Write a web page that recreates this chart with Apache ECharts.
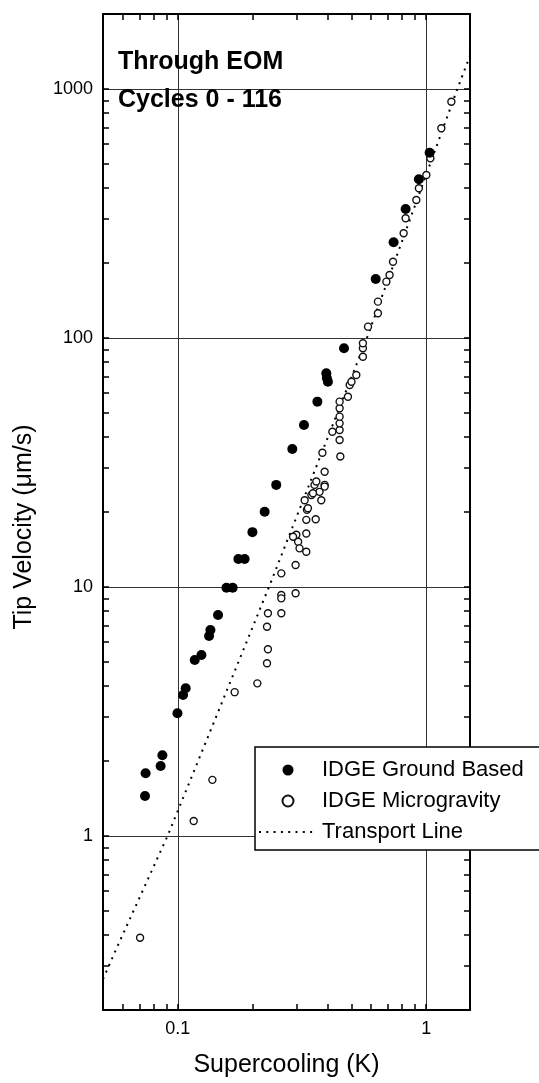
<!DOCTYPE html>
<html>
<head>
<meta charset="utf-8">
<script src="https://cdn.jsdelivr.net/npm/echarts@6/dist/echarts.min.js"></script>
<style>
html,body{margin:0;padding:0;background:#fff;}
#chart{width:539px;height:1083px;}
</style>
</head>
<body>
<div id="chart"></div>
<script>
// ---- data ----
const groundBased = [
  [0.0738,1.447],[0.0742,1.785],[0.0853,1.91],[0.0867,2.11],[0.0997,3.11],
  [0.1050,3.68],[0.1076,3.92],[0.1170,5.09],[0.1245,5.33],[0.1336,6.35],
  [0.1353,6.72],[0.1452,7.72],[0.1570,9.93],[0.1663,9.93],[0.1753,12.95],
  [0.1858,12.95],[0.1997,16.6],[0.2237,20.06],[0.249,25.7],[0.289,35.8],
  [0.322,44.7],[0.3646,55.5],[0.396,72.1],[0.398,69],[0.402,66.7],
  [0.4666,90.9],[0.626,172.5],[0.739,242.2],[0.826,329.6],[0.934,433.7],
  [1.032,554.6]
];
const microgravity = [
  [0.0705,0.39],[0.1159,1.148],[0.1378,1.68],[0.1694,3.78],[0.209,4.10],
  [0.2286,4.94],[0.2306,5.62],[0.2286,6.92],[0.2306,7.84],[0.261,7.84],
  [0.261,9.28],[0.261,9.0],[0.298,9.43],[0.261,11.34],[0.298,12.25],
  [0.305,15.2],[0.329,13.85],[0.309,14.29],[0.329,16.4],[0.300,16.2],
  [0.291,15.9],[0.329,18.6],[0.359,18.7],[0.331,20.4],[0.324,22.3],
  [0.345,23.4],[0.378,22.3],[0.355,25.7],[0.390,25.7],[0.372,24.1],
  [0.334,20.7],[0.350,23.8],[0.390,25.3],[0.361,26.5],[0.390,29.0],
  [0.382,34.6],[0.451,33.4],[0.419,42.0],[0.448,38.9],[0.448,42.7],
  [0.448,45.4],[0.448,48.3],[0.448,52.2],[0.448,55.5],[0.484,58.1],
  [0.492,64.7],[0.523,71.0],[0.500,66.7],[0.556,84.1],[0.556,90.9],
  [0.556,95.2],[0.583,111],[0.639,125.7],[0.639,139.9],[0.691,168.3],
  [0.712,179],[0.735,202.4],[0.811,263.2],[0.826,302.4],[0.912,358],
  [0.934,399],[1.001,451.4],[1.039,526.6],[1.150,695],[1.262,889]
];
const transportLine = [
  [0.05,0.266],[0.0567,0.354],[0.0913,1.009],[0.1366,2.706],[0.233,10.02],
  [0.577,100],[1.334,1000],[1.5,1360]
];
const xTickLabels = [0.1, 1];
const yTickLabels = [1, 10, 100, 1000];
const xMinorTicks = [0.06,0.07,0.08,0.09,0.1,0.2,0.3,0.4,0.5,0.6,0.7,0.8,0.9,1];
const yMinorTicks = [0.3,0.4,0.5,0.6,0.7,0.8,0.9,1,2,3,4,5,6,7,8,9,10,20,30,40,50,60,70,80,90,100,
                     200,300,400,500,600,700,800,900,1000];

const FONT = "'Liberation Sans', Arial, Helvetica, sans-serif";
const fmt = v => String(+Number(v).toPrecision(6));

const chart = echarts.init(document.getElementById('chart'), null, {renderer:'canvas'});

const minorX = (pos, showLine) => ({
  type:'log', logBase:10, min:0.05, max:1.5, position:pos,
  axisLine:{show:showLine, onZero:false, lineStyle:{color:'#000', width:2}},
  axisTick:{show:true, inside:true, length:6, customValues:xMinorTicks, lineStyle:{color:'#000', width:1.5}},
  axisLabel:{show:false}, splitLine:{show:false}
});
const minorY = (pos, showLine) => ({
  type:'log', logBase:10, min:0.2, max:2000, position:pos,
  axisLine:{show:showLine, onZero:false, lineStyle:{color:'#000', width:2}},
  axisTick:{show:true, inside:true, length:6, customValues:yMinorTicks, lineStyle:{color:'#000', width:1.5}},
  axisLabel:{show:false}, splitLine:{show:false}
});

chart.setOption({
  animation:false,
  backgroundColor:'#fff',
  textStyle:{fontFamily:FONT},
  grid:{left:103, right:69, top:14, bottom:73, show:false},
  xAxis:[
    {
      type:'log', logBase:10, min:0.05, max:1.5, position:'bottom',
      axisLine:{show:true, onZero:false, lineStyle:{color:'#000', width:2}},
      axisTick:{show:false, customValues:xTickLabels},
      axisLabel:{show:true, customValues:xTickLabels, formatter:fmt, fontSize:18, color:'#000', margin:10, fontFamily:FONT},
      splitLine:{show:true, lineStyle:{color:'#333', width:1}},
      name:'Supercooling (K)', nameLocation:'middle', nameGap:43,
      nameTextStyle:{fontSize:25, color:'#000', fontFamily:FONT}
    },
    minorX('bottom', false),
    minorX('top', true)
  ],
  yAxis:[
    {
      type:'log', logBase:10, min:0.2, max:2000, position:'left',
      axisLine:{show:true, onZero:false, lineStyle:{color:'#000', width:2}},
      axisTick:{show:false, customValues:yTickLabels},
      axisLabel:{show:true, customValues:yTickLabels, formatter:fmt, fontSize:18, color:'#000', margin:10, fontFamily:FONT},
      splitLine:{show:true, lineStyle:{color:'#333', width:1}},
      name:'Tip Velocity (μm/s)', nameLocation:'middle', nameGap:66, nameRotate:90,
      nameTextStyle:{fontSize:25, color:'#000', fontFamily:FONT, padding:[0,30,0,0]}
    },
    minorY('left', false),
    minorY('right', true)
  ],
  legend:{
    show:true, orient:'vertical', left:255, top:747,
    backgroundColor:'#fff', borderColor:'#000', borderWidth:1.5, borderRadius:0,
    padding:[12,60,7,3], itemWidth:58, itemHeight:11, itemGap:9,
    textStyle:{fontSize:22, color:'#000', fontFamily:FONT},
    data:['IDGE Ground Based','IDGE Microgravity','Transport Line'],
    z:20
  },
  graphic:[
    {type:'text', left:118, top:50, z:10,
     style:{text:'Through EOM', font:"bold 25px 'Liberation Sans', Arial, sans-serif", fill:'#000'}},
    {type:'text', left:118, top:88, z:10,
     style:{text:'Cycles 0 - 116', font:"bold 25px 'Liberation Sans', Arial, sans-serif", fill:'#000'}}
  ],
  series:[
    {
      name:'Transport Line', type:'line', xAxisIndex:0, yAxisIndex:0,
      data:transportLine, showSymbol:false, symbol:'none', smooth:false,
      itemStyle:{color:'#000', opacity:0},
      lineStyle:{color:'#000', width:2, type:[2,5.3], opacity:1}, z:2
    },
    {
      name:'IDGE Microgravity', type:'scatter', xAxisIndex:0, yAxisIndex:0,
      data:microgravity, symbol:'circle', symbolSize:7,
      itemStyle:{color:'#fff', borderColor:'#111', borderWidth:1.4, opacity:1}, z:3
    },
    {
      name:'IDGE Ground Based', type:'scatter', xAxisIndex:0, yAxisIndex:0,
      data:groundBased, symbol:'circle', symbolSize:10,
      itemStyle:{color:'#000', opacity:1}, z:4
    }
  ]
});
</script>
</body>
</html>
